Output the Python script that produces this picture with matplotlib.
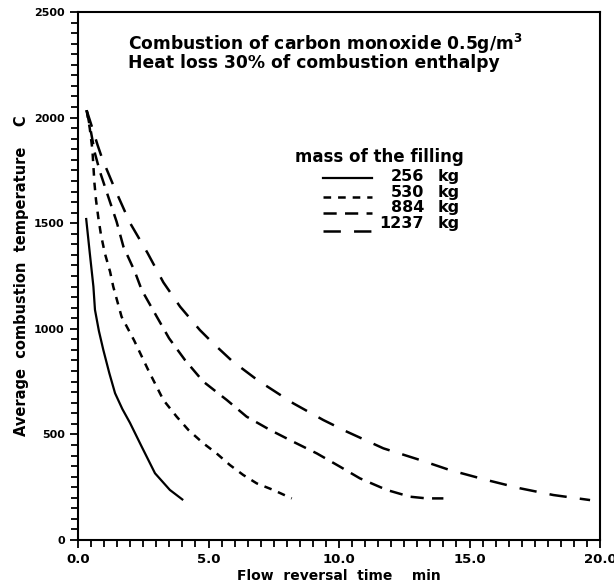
import matplotlib
matplotlib.use("Agg")
import matplotlib.pyplot as plt
from matplotlib.ticker import MultipleLocator, FormatStrFormatter

# ---- data ----
x_256 = [0.31, 0.45, 0.59, 0.65, 0.80, 0.97, 1.20, 1.42, 1.70, 1.99, 2.44, 2.95, 3.52, 4.03]
y_256 = [1525, 1360, 1200, 1090, 990, 900, 790, 695, 620, 555, 442, 316, 237, 189]

x_530 = [0.33, 0.45, 0.55, 0.59, 0.63, 0.69, 0.78, 0.88, 1.03, 1.23, 1.35, 1.67, 2.15,
         2.69, 3.27, 3.78, 4.23, 4.80, 5.31, 5.82, 6.33, 6.85, 7.48, 8.19]
y_530 = [2035, 1950, 1850, 1770, 1690, 1610, 1525, 1445, 1357, 1270, 1200, 1057, 945,
         805, 663, 584, 521, 458, 410, 355, 308, 268, 237, 197]

x_884 = [0.33, 0.50, 0.65, 0.84, 1.16, 1.48, 1.74, 2.18, 2.44, 3.02, 3.49, 4.10, 4.80,
         5.70, 6.46, 7.36, 8.25, 9.15, 10.04, 10.80, 11.83, 12.72, 13.36, 14.00]
y_884 = [2035, 1930, 1830, 1744, 1625, 1507, 1389, 1270, 1184, 1057, 955, 852, 750,
         663, 584, 521, 465, 410, 347, 292, 237, 205, 197, 197]

x_1237 = [0.33, 0.55, 0.75, 0.93, 1.42, 1.99, 2.66, 3.27, 3.91, 4.67, 5.18, 5.90, 6.90,
          8.25, 9.40, 10.30, 11.70, 13.10, 14.25, 15.66, 16.93, 18.21, 19.62]
y_1237 = [2035, 1950, 1870, 1805, 1660, 1502, 1360, 1220, 1105, 994, 931, 848, 755,
          647, 568, 513, 434, 379, 331, 284, 245, 213, 189]

masses = ["256", "530", "884", "1237"]
series_x = [x_256, x_530, x_884, x_1237]
series_y = [y_256, y_530, y_884, y_1237]

x_ticks = [0.0, 5.0, 10.0, 15.0, 20.0]
y_ticks = [0, 500, 1000, 1500, 2000, 2500]

heading = ("Combustion of carbon monoxide 0.5g/m$^\\mathbf{3}$\n"
           "Heat loss 30% of combustion enthalpy")

# ---- styles ----
plt.rcParams['lines.scale_dashes'] = False
plt.rcParams['font.family'] = ['DejaVu Sans']
plt.rcParams['mathtext.fontset'] = 'dejavusans'
dash_styles = [None, (0, (5.5, 5.0)), (0, (9.5, 6.0)), (0, (12.5, 9.5))]

fig = plt.figure(figsize=(6.14, 5.88), dpi=100)
ax = fig.add_axes([78 / 614, 48 / 588, 522 / 614, 528 / 588])

for xs, ys, ds in zip(series_x, series_y, dash_styles):
    if ds is None:
        ax.plot(xs, ys, color='black', lw=1.6, solid_capstyle='butt')
    else:
        ax.plot(xs, ys, color='black', lw=1.8, linestyle=ds, dash_capstyle='butt')

ax.set_xlim(0, 20)
ax.set_ylim(0, 2500)
ax.set_xticks(x_ticks)
ax.set_yticks(y_ticks)
ax.xaxis.set_major_formatter(FormatStrFormatter('%.1f'))
ax.xaxis.set_minor_locator(MultipleLocator(0.5))
ax.yaxis.set_minor_locator(MultipleLocator(50))
ax.tick_params(which='major', direction='out', length=6, width=1.3,
               top=False, right=False, labelsize=9.5)
ax.tick_params(which='minor', direction='out', length=5, width=1.3,
               top=False, right=False)
ax.tick_params(axis='y', labelsize=8)
for lab in ax.get_xticklabels() + ax.get_yticklabels():
    lab.set_fontweight('bold')
for sp in ax.spines.values():
    sp.set_linewidth(1.5)

ax.set_xlabel("Flow  reversal  time    min", fontsize=10, fontweight='bold', labelpad=2)
ax.set_ylabel("Average  combustion  temperature    C", fontsize=10.5,
              fontweight='bold', labelpad=4)

# heading text (two lines in one text)
ax.text(0.096, 0.962, heading, transform=ax.transAxes, fontsize=12.3,
        fontweight='bold', ha='left', va='top', linespacing=0.88)

# legend drawn manually
ax.text(0.416, 0.716, "mass of the filling", transform=ax.transAxes,
        fontsize=12, fontweight='bold', ha='left', va='baseline')
row_y = [0.679, 0.650, 0.622, 0.591]
line_y = [0.686, 0.650, 0.619, 0.585]
for m, ds, ry, ly in zip(masses, dash_styles, row_y, line_y):
    if ds is None:
        ax.plot([0.469, 0.563], [ly, ly], transform=ax.transAxes, color='black', lw=1.6)
    else:
        ax.plot([0.469, 0.563], [ly, ly], transform=ax.transAxes, color='black',
                lw=1.8, linestyle=ds, dash_capstyle='butt')
    ax.text(0.663, ry, m, transform=ax.transAxes, fontsize=11.5, fontweight='bold',
            ha='right', va='baseline')
    ax.text(0.688, ry, "kg", transform=ax.transAxes, fontsize=11.5, fontweight='bold',
            ha='left', va='baseline')

fig.savefig("out.png", dpi=100)
